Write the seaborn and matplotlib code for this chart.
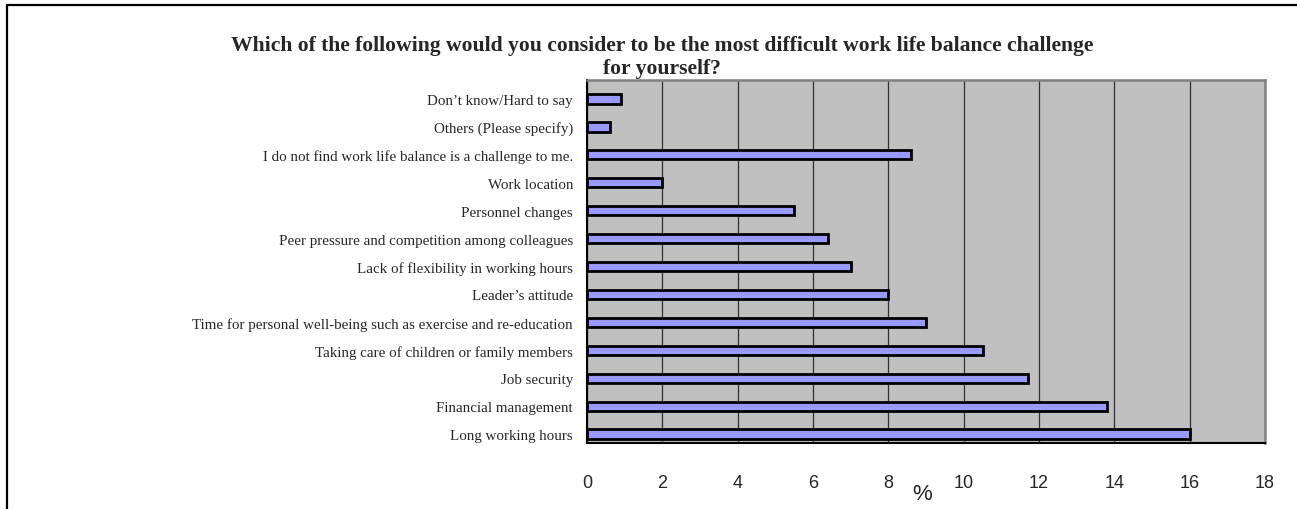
import matplotlib
matplotlib.use("Agg")
import matplotlib.pyplot as plt
from matplotlib.lines import Line2D
import seaborn as sns
import pandas as pd
import numpy as np

categories = [
    "Don\u2019t know/Hard to say",
    "Others (Please specify)",
    "I do not find work life balance is a challenge to me.",
    "Work location",
    "Personnel changes",
    "Peer pressure and competition among colleagues",
    "Lack of flexibility in working hours",
    "Leader\u2019s attitude",
    "Time for personal well-being such as exercise and re-education",
    "Taking care of children or family members",
    "Job security",
    "Financial management",
    "Long working hours",
]
percent = [0.9, 0.6, 8.6, 2.0, 5.5, 6.4, 7.0, 8.0, 9.0, 10.5, 11.7, 13.8, 16.0]
x_ticks = [0, 2, 4, 6, 8, 10, 12, 14, 16, 18]
title = ("Which of the following would you consider to be the most difficult work life balance challenge\n"
         "for yourself?")

df = pd.DataFrame({"challenge": categories, "percent": percent})

sns.set_theme(style="white")
plt.rcParams["font.family"] = ["Liberation Serif", "DejaVu Serif"]

fig = plt.figure(figsize=(12.97, 5.10), dpi=100)
ax = fig.add_axes([587 / 1297, 1 - 444 / 510, (1265 - 587) / 1297, (444 - 81) / 510])
ax.set_facecolor("#C0C0C0")

sns.barplot(data=df, x="percent", y="challenge", orient="h", color="#9999FF",
            saturation=1, edgecolor="black", linewidth=2.0, width=0.33, ax=ax, zorder=3)

ax.set_xlim(0, 18)
ax.set_ylim(12.32, -0.68)
ax.set_xticks(x_ticks)
ax.set_xticklabels([str(t) for t in x_ticks], family="Liberation Sans", fontsize=13)
ax.tick_params(axis="x", direction="in", length=5, width=1, color="black", pad=22)
ax.tick_params(axis="y", which="major", length=0, pad=10, labelsize=10.8)
ax.set_yticks(np.arange(-0.68, 12.4, 1.0), minor=True)
ax.tick_params(axis="y", which="minor", direction="in", length=7, width=1, color="black")
ax.grid(axis="x", color="#303030", linewidth=0.9, zorder=1)
ax.grid(axis="y", visible=False)
ax.set_axisbelow(True)

ax.set_xlabel("%", family="Liberation Sans", fontsize=16)
ax.xaxis.set_label_coords((922 - 587) / (1265 - 587), -0.11)
ax.xaxis.label.set_verticalalignment("top")
ax.set_ylabel("")

for side in ("left", "bottom"):
    ax.spines[side].set_color("black")
    ax.spines[side].set_linewidth(1.5)
for side in ("top", "right"):
    ax.spines[side].set_color("#808080")
    ax.spines[side].set_linewidth(1.8)
    ax.spines[side].set_visible(True)

fig.text(662 / 1297, 1 - 57.5 / 510, title, ha="center", va="center",
         fontsize=15.6, fontweight="bold", linespacing=1.2)

# chart border (top and left edges)
fig.add_artist(Line2D([6.5 / 1297, 1.0], [1 - 5.5 / 510, 1 - 5.5 / 510],
                      transform=fig.transFigure, color="black", linewidth=1.6))
fig.add_artist(Line2D([6.5 / 1297, 6.5 / 1297], [0.0, 1 - 5.5 / 510],
                      transform=fig.transFigure, color="black", linewidth=1.6))

fig.savefig("out.png", dpi=100)
